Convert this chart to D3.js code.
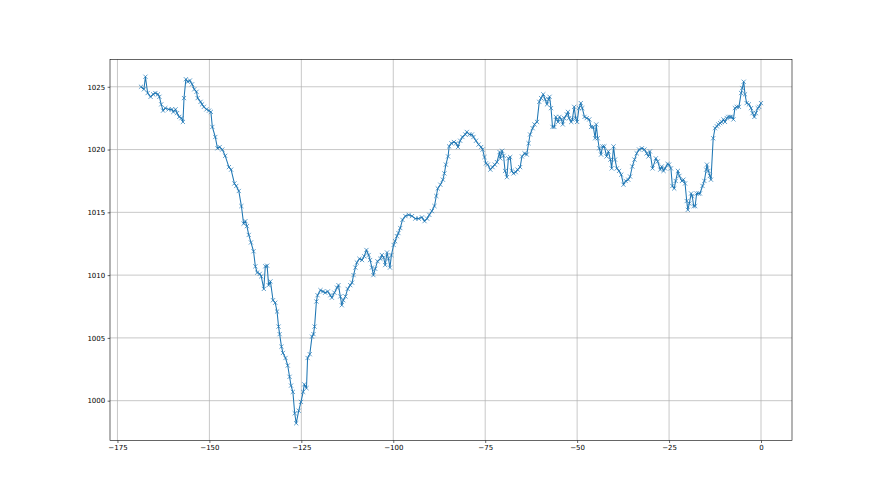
<!DOCTYPE html>
<html>
<head>
<meta charset="utf-8">
<script src="https://cdn.jsdelivr.net/npm/d3@7"></script>
<style>
html,body{margin:0;padding:0;background:#fff;}
svg{display:block;}
text{font-family:"DejaVu Sans",sans-serif;font-size:7px;fill:#000;}
</style>
</head>
<body>
<svg id="chart" width="880" height="495"></svg>
<script>
const hours = [
-168.6,-167.8,-167.4,-166.8,-166.0,-165.3,-164.7,-164.0,-163.6,-163.1,-162.6,-162.0,-161.1,-160.2,-159.8,-159.2,-158.8,-158.2,-157.6,-157.2,
-156.9,-156.4,-155.9,-155.3,-154.7,-154.1,-153.5,-153.2,-152.4,-152.0,-151.5,-150.8,-150.1,-149.6,-149.2,-148.4,-147.8,-147.2,-146.5,-145.7,
-144.7,-144.1,-143.2,-142.7,-142.0,-141.3,-140.7,-140.2,-139.8,-139.3,-138.7,-138.0,-137.5,-137.0,-136.3,-135.9,-135.2,-134.8,-134.3,-133.9,
-133.4,-132.7,-132.1,-131.6,-131.2,-130.9,-130.4,-130.0,-129.3,-128.7,-128.2,-127.8,-127.3,-126.8,-126.4,-125.7,-125.1,-124.5,-124.2,-123.6,
-123.3,-122.7,-122.1,-121.7,-121.4,-120.9,-120.6,-119.8,-119.1,-118.5,-117.8,-117.1,-116.7,-116.0,-115.3,-114.9,-114.4,-114.0,-113.6,-113.0,
-112.4,-111.7,-111.2,-110.8,-110.3,-109.9,-109.2,-108.5,-107.9,-107.3,-106.7,-106.3,-105.8,-105.4,-104.9,-104.3,-103.5,-103.1,-102.6,-102.2,
-101.7,-101.3,-100.9,-100.5,-99.9,-99.5,-99.0,-98.6,-98.1,-97.5,-96.7,-95.8,-94.9,-94.0,-93.1,-92.2,-91.5,-90.8,-90.2,-89.5,
-88.8,-88.3,-87.9,-87.2,-86.5,-86.1,-85.7,-85.1,-84.8,-84.2,-83.5,-82.9,-82.4,-81.8,-81.2,-80.4,-80.0,-79.3,-78.6,-78.2,
-77.5,-76.8,-76.1,-75.7,-75.2,-74.8,-74.3,-73.6,-73.0,-72.4,-71.8,-71.1,-70.9,-70.4,-70.0,-69.6,-69.1,-68.7,-68.2,-67.8,
-67.3,-66.7,-66.2,-65.5,-65.0,-64.3,-63.7,-63.2,-62.8,-62.1,-61.6,-60.9,-60.3,-59.8,-59.2,-58.7,-58.2,-57.8,-57.5,-57.1,
-56.7,-56.2,-55.8,-55.2,-54.8,-54.3,-53.9,-53.5,-52.8,-52.5,-52.2,-51.6,-51.3,-50.8,-50.4,-50.0,-49.5,-49.0,-48.6,-48.0,
-47.4,-46.7,-46.2,-45.6,-45.1,-44.8,-44.4,-44.0,-43.5,-43.1,-42.6,-42.0,-41.5,-40.95,-40.6,-40.1,-39.7,-39.2,-38.6,-38.0,
-37.4,-36.8,-36.1,-35.6,-35.0,-34.4,-33.8,-33.15,-32.4,-31.7,-31.1,-30.6,-30.2,-29.5,-28.6,-28.1,-27.4,-27.0,-26.5,-26.1,
-25.4,-25.0,-24.5,-24.1,-23.6,-23.2,-22.6,-22.2,-21.5,-21.1,-20.65,-20.2,-19.9,-19.5,-19.0,-18.7,-18.3,-17.9,-17.5,-17.0,
-16.6,-15.9,-15.4,-14.9,-14.7,-14.3,-13.9,-13.6,-13.0,-12.5,-12.0,-11.6,-11.1,-10.7,-10.2,-9.8,-9.3,-8.9,-8.4,-8.0,
-7.5,-7.1,-6.6,-6.0,-5.4,-5.1,-4.7,-4.35,-3.9,-3.3,-2.7,-2.3,-1.8,-1.4,-0.9,-0.5,0.0
];
const pressure = [
1025.0,1024.8,1025.8,1024.5,1024.2,1024.4,1024.5,1024.4,1024.2,1023.6,1023.1,1023.3,1023.2,1023.2,1023.0,1023.2,1022.9,1022.6,1022.5,1022.2,
1024.1,1025.6,1025.4,1025.5,1025.2,1024.8,1024.6,1024.1,1023.8,1023.6,1023.4,1023.2,1023.1,1023.0,1021.8,1021.0,1020.1,1020.2,1020.0,1019.5,
1018.6,1018.4,1017.3,1017.1,1016.7,1015.5,1014.1,1014.3,1013.9,1013.2,1012.6,1011.9,1010.7,1010.2,1010.1,1009.9,1008.9,1010.7,1010.75,1009.2,
1009.5,1008.0,1007.8,1007.1,1005.9,1005.3,1004.3,1003.8,1003.4,1002.8,1001.9,1001.2,1000.7,999.0,998.2,999.2,999.9,1000.7,1001.3,1001.0,
1003.4,1003.7,1005.1,1005.3,1005.9,1007.9,1008.4,1008.8,1008.7,1008.6,1008.7,1008.4,1008.2,1008.6,1009.0,1009.2,1008.3,1007.6,1008.0,1008.3,
1008.9,1009.2,1009.4,1010.0,1010.6,1011.0,1011.3,1011.2,1011.5,1012.0,1011.6,1011.2,1010.6,1010.0,1010.5,1011.1,1011.3,1011.6,1011.4,1010.8,
1011.8,1011.3,1010.6,1011.6,1012.4,1012.7,1013.1,1013.35,1013.75,1014.4,1014.7,1014.8,1014.7,1014.5,1014.5,1014.6,1014.3,1014.5,1014.8,1015.1,
1015.5,1016.3,1016.9,1017.2,1017.6,1018.1,1018.8,1019.45,1020.25,1020.5,1020.6,1020.5,1020.2,1020.7,1021.0,1021.2,1021.4,1021.2,1021.2,1021.0,
1020.7,1020.4,1020.2,1020.0,1019.4,1018.9,1018.8,1018.4,1018.6,1018.8,1019.0,1019.8,1019.3,1019.9,1019.5,1018.3,1017.8,1019.3,1019.4,1018.3,
1018.1,1018.2,1018.4,1018.6,1019.45,1019.7,1019.6,1020.5,1021.2,1021.7,1022.0,1022.2,1023.8,1024.1,1024.4,1024.0,1023.6,1024.0,1024.2,1023.3,
1021.8,1021.8,1022.6,1022.2,1022.6,1022.4,1022.0,1022.5,1022.8,1023.0,1022.5,1022.2,1022.4,1023.4,1022.5,1022.2,1023.3,1023.7,1023.3,1022.6,
1022.5,1022.4,1021.8,1021.8,1020.9,1022.0,1020.9,1020.1,1019.6,1020.25,1020.25,1019.45,1019.85,1019.2,1018.5,1020.25,1019.2,1018.5,1018.3,1018.0,
1017.2,1017.5,1017.6,1017.85,1018.65,1019.2,1019.7,1020.0,1020.1,1020.0,1019.7,1019.45,1019.85,1018.5,1019.3,1019.05,1018.4,1018.65,1018.3,1018.5,
1018.85,1018.8,1018.5,1017.1,1016.9,1017.5,1018.3,1017.9,1017.5,1017.6,1017.3,1015.9,1015.2,1015.7,1016.5,1016.3,1015.5,1015.5,1016.5,1016.5,
1016.5,1017.1,1017.5,1018.4,1018.8,1018.3,1017.9,1017.6,1020.9,1021.7,1021.85,1022.0,1022.1,1022.2,1022.4,1022.2,1022.5,1022.6,1022.6,1022.6,
1022.4,1023.3,1023.4,1023.4,1024.5,1024.9,1025.4,1024.4,1023.7,1023.6,1023.3,1022.9,1022.6,1022.9,1023.3,1023.4,1023.7
];
const xTickValues = [-175,-150,-125,-100,-75,-50,-25,0];
const yTickValues = [1000,1005,1010,1015,1020,1025];

(function draw() {
  const plotL = 110, plotR = 792, plotT = 59.4, plotB = 440.6;
  const svg = d3.select("#chart");

  const n = Math.min(hours.length, pressure.length);
  const data = d3.range(n).map(i => ({h: hours[i], p: pressure[i]}));
  const xExt = d3.extent(data, d => d.h), yExt = d3.extent(data, d => d.p);
  const xPad = (xExt[1]-xExt[0])*0.05, yPad = (yExt[1]-yExt[0])*0.05;
  const x = d3.scaleLinear().domain([xExt[0]-xPad, xExt[1]+xPad]).range([plotL, plotR]);
  const y = d3.scaleLinear().domain([yExt[0]-yPad, yExt[1]+yPad]).range([plotB, plotT]);

  const fmt = v => (v < 0 ? "\u2212" + Math.abs(v) : String(v));

  const grid = svg.append("g");
  grid.selectAll("line.gx").data(xTickValues).join("line").attr("class","gx")
    .attr("x1", d=>x(d)).attr("x2", d=>x(d)).attr("y1", plotT).attr("y2", plotB)
    .attr("stroke", "#b0b0b0").attr("stroke-width", 0.7);
  grid.selectAll("line.gy").data(yTickValues).join("line").attr("class","gy")
    .attr("y1", d=>y(d)).attr("y2", d=>y(d)).attr("x1", plotL).attr("x2", plotR)
    .attr("stroke", "#b0b0b0").attr("stroke-width", 0.7);

  const line = d3.line().x(d=>x(d.h)).y(d=>y(d.p));
  svg.append("path").datum(data).attr("d", line)
    .attr("fill","none").attr("stroke","#1f77b4").attr("stroke-width",1.05)
    .attr("stroke-linejoin","round");

  const ms = 2.1;
  svg.append("g").selectAll("path").data(data).join("path")
    .attr("d", d => {
      const cx = x(d.h), cy = y(d.p);
      return `M${cx-ms},${cy-ms}L${cx+ms},${cy+ms}M${cx-ms},${cy+ms}L${cx+ms},${cy-ms}`;
    })
    .attr("stroke","#1f77b4").attr("stroke-width",0.7).attr("fill","none");

  const xAxis = d3.axisBottom(x).tickValues(xTickValues).tickFormat(fmt).tickSize(2.4).tickPadding(2.4);
  const yAxis = d3.axisLeft(y).tickValues(yTickValues).tickFormat(fmt).tickSize(2.4).tickPadding(2.4);
  const gx = svg.append("g").attr("transform", `translate(0,${plotB})`).call(xAxis);
  const gy = svg.append("g").attr("transform", `translate(${plotL},0)`).call(yAxis);
  [gx, gy].forEach(g => {
    g.select(".domain").remove();
    g.selectAll(".tick line").attr("stroke","#000").attr("stroke-width",0.6);
    g.selectAll("text").attr("font-family","DejaVu Sans").attr("font-size","7px").attr("fill","#000");
  });

  svg.append("rect").attr("x", plotL).attr("y", plotT).attr("width", plotR-plotL).attr("height", plotB-plotT)
    .attr("fill","none").attr("stroke","#000").attr("stroke-width",0.6);
})();
</script>
</body>
</html>
